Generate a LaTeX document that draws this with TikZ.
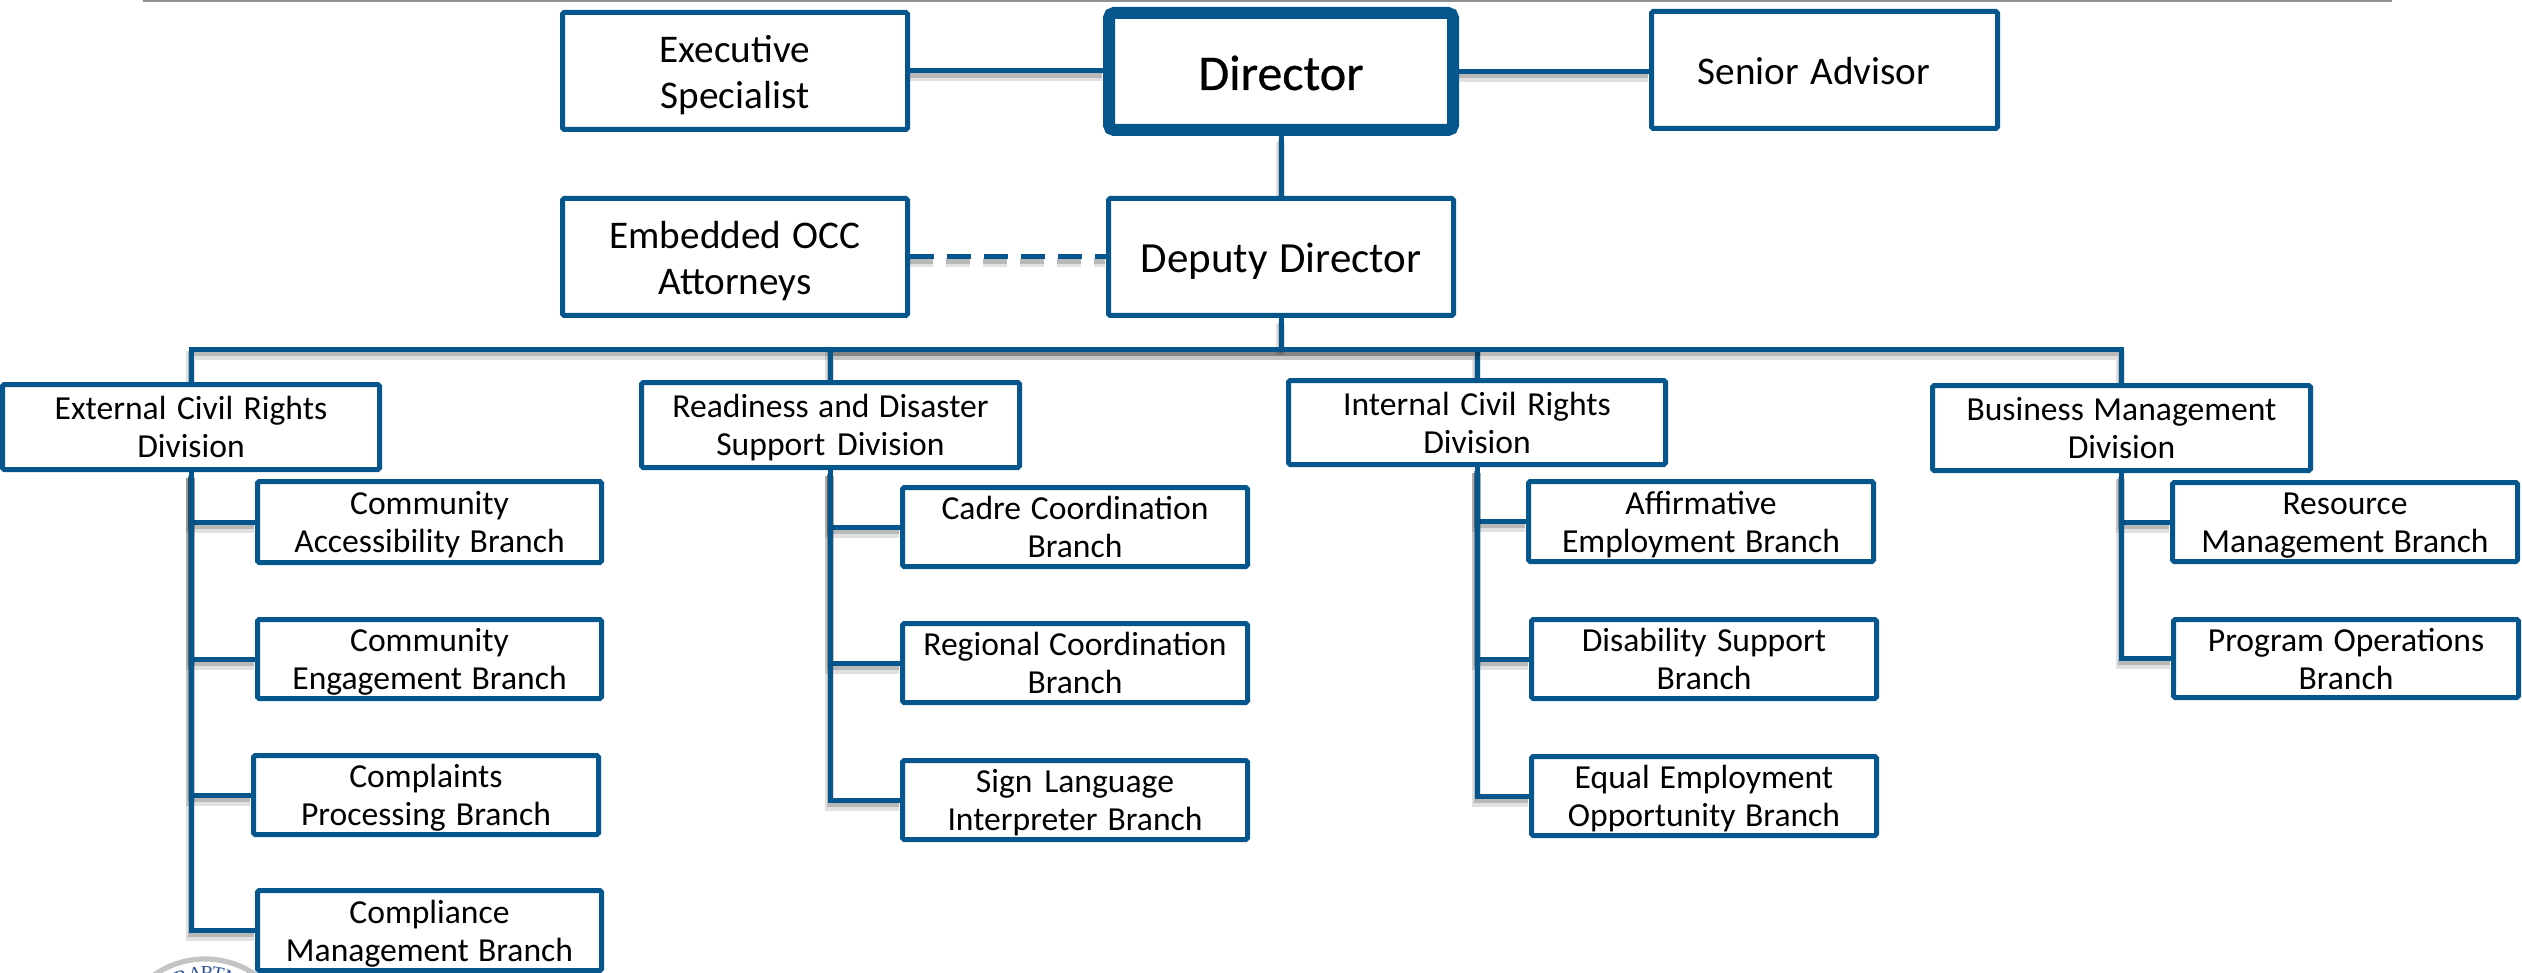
\documentclass[tikz,border=0pt]{standalone}
\usepackage{fontspec}
\setmainfont{Carlito}
\newfontfamily\dirfont[FakeBold=0.5]{Carlito}
\newfontfamily\sealfont{Liberation Serif}
\usetikzlibrary{backgrounds}
\definecolor{orgblue}{HTML}{04568C}
\definecolor{sealblue}{HTML}{2F5597}
\definecolor{rulegray}{HTML}{8F8F96}
\definecolor{ringgray}{HTML}{C4C4C4}
\tikzset{
  box/.style={draw=orgblue,fill=white,line width=2.5pt,rounded corners=0.8pt,inner sep=0pt,align=center,text=black},
  textbal/.style 2 args={execute at begin node={\spaceskip=0pt\xspaceskip=0pt\rule{0pt}{#1}},execute at end node={\rule[-#2]{0pt}{#2}}},
  smalltext/.style={font=\fontsize{16.8pt}{19pt}\selectfont,textbal={15.5pt}{4pt}},
  midtext/.style={font=\fontsize{19.6pt}{23pt}\selectfont,textbal={19.8pt}{5pt}},
  advtext/.style={font=\fontsize{19.6pt}{23pt}\selectfont,textbal={19.6pt}{5pt}},
  deptext/.style={font=\fontsize{21.5pt}{25pt}\selectfont,textbal={21pt}{5pt}},
  dirtext/.style={font=\fontsize{25pt}{28pt}\dirfont\selectfont,textbal={24.5pt}{6pt}},
  linkline/.style={draw=orgblue,line width=2.5pt,line join=miter},
  shadowwide/.style={draw=black,opacity=0.12,line width=4.5pt,transform canvas={xshift=-0.5pt,yshift=-3pt}},
  shadownarrow/.style={draw=black,opacity=0.18,line width=2.5pt,transform canvas={xshift=-0.4pt,yshift=-2.2pt}},
}
\newcommand\bx[6]{%
  \pgfmathsetmacro\bcx{(#3+#5)/2}%
  \pgfmathsetmacro\bcy{(#4+#6)/2}%
  \pgfmathsetmacro\bw{(#5-#3-5)*0.5}%
  \pgfmathsetmacro\bh{(#6-#4-5)*0.5}%
  \node[box,#1,text width=\bw pt,minimum width=\bw pt,minimum height=\bh pt] (#2) at (\bcx,\bcy)}
\newcommand\conn[2][]{%
  \path[shadowwide,#1] #2;
  \path[shadownarrow,#1] #2;
  \path[linkline,#1] #2;}
\begin{document}
\begin{tikzpicture}[x=0.5pt,y=-0.5pt]
\useasboundingbox (0,0) rectangle (2522,973);
\fill[rulegray] (143,0) rectangle (2392,2.5);
% top tier
\node[box,dirtext,line width=6pt,rounded corners=2.5pt,minimum width=172pt,minimum height=58.5pt] (dir) at (1281,71.5) {Director};
\bx{midtext}{exec}{560}{10}{910}{132} {Executive\\Specialist};
\bx{advtext}{adv}{1649}{9}{2000}{131} {Senior Advisor\hspace*{10.5pt}\mbox{}};
\bx{deptext}{dep}{1106}{196}{1456}{318} {Deputy Director};
\bx{midtext}{occ}{560}{196}{910}{318} {Embedded OCC\\Attorneys};
% divisions
\bx{smalltext}{ext}{0}{382}{382}{472} {External Civil Rights\\Division};
\bx{smalltext}{rdy}{639}{380}{1022}{470} {Readiness and Disaster\\Support Division};
\bx{smalltext}{int}{1286}{378}{1668}{467} {Internal Civil Rights\\Division};
\bx{smalltext}{biz}{1930}{383}{2313}{473} {Business Management\\Division};
% external branches
\bx{smalltext}{cab}{255}{479}{604}{565} {Community\\Accessibility Branch};
\bx{smalltext}{ceb}{255}{617}{604}{701} {Community\\Engagement Branch};
\bx{smalltext}{cpb}{251}{753}{601}{837} {Complaints\\Processing Branch};
\bx{smalltext}{cmb}{255}{888}{604}{973} {Compliance\\Management Branch};
% readiness branches
\bx{smalltext}{ccb}{900}{485}{1250}{569} {Cadre Coordination\\Branch};
\bx{smalltext}{rcb}{900}{621}{1250}{705} {Regional Coordination\\Branch};
\bx{smalltext}{slb}{900}{758}{1250}{842} {Sign Language\\Interpreter Branch};
% internal branches
\bx{smalltext}{aeb}{1526}{479}{1876}{564} {Affirmative\\Employment Branch};
\bx{smalltext}{dsb}{1529}{617}{1879}{701} {Disability Support\\Branch};
\bx{smalltext}{eeb}{1529}{754}{1879}{838} {Equal Employment\\Opportunity Branch};
% business branches
\bx{smalltext}{rmb}{2170}{480}{2520}{564} {Resource\\Management Branch};
\bx{smalltext}{pob}{2171}{617}{2521}{700} {Program Operations\\Branch};
\coordinate (bus) at (1281,349);
\begin{pgfonlayer}{background}
  % seal
  \draw[ringgray,line width=2.6pt] (205,1048) circle (89);
  \foreach \ltr/\ang in {P/-18.9,A/-7.6,R/1.7,T/10,M/21.5}{
    \node[text=sealblue,inner sep=0pt,rotate=-\ang,font=\fontsize{10pt}{12pt}\sealfont\selectfont,anchor=base] (seal\ltr) at ({205+68*sin(\ang)},{1048-68*cos(\ang)}) {\ltr};
  }
  \conn{(exec.east) -- (exec.east -| dir.west)}
  \conn{(dir.east) -- (dir.east -| adv.west)}
  \conn{(dir.south) -- (dep.north)}
  \conn[dash pattern=on 12pt off 6.5pt]{(occ.east) -- (occ.east -| dep.west)}
  \conn{(dep.south) -- (bus)}
  \conn{(ext.north) |- (bus)}
  \conn{(rdy.north) |- (bus)}
  \conn{(int.north) |- (bus)}
  \conn{(biz.north) |- (bus)}
  \foreach \up/\kid in {ext/cab,ext/ceb,ext/cpb,ext/cmb,rdy/ccb,rdy/rcb,rdy/slb,int/aeb,int/dsb,int/eeb,biz/rmb,biz/pob}{
    \conn{(\up.south) |- (\kid.west)}
  }
\end{pgfonlayer}
\end{tikzpicture}
\end{document}
